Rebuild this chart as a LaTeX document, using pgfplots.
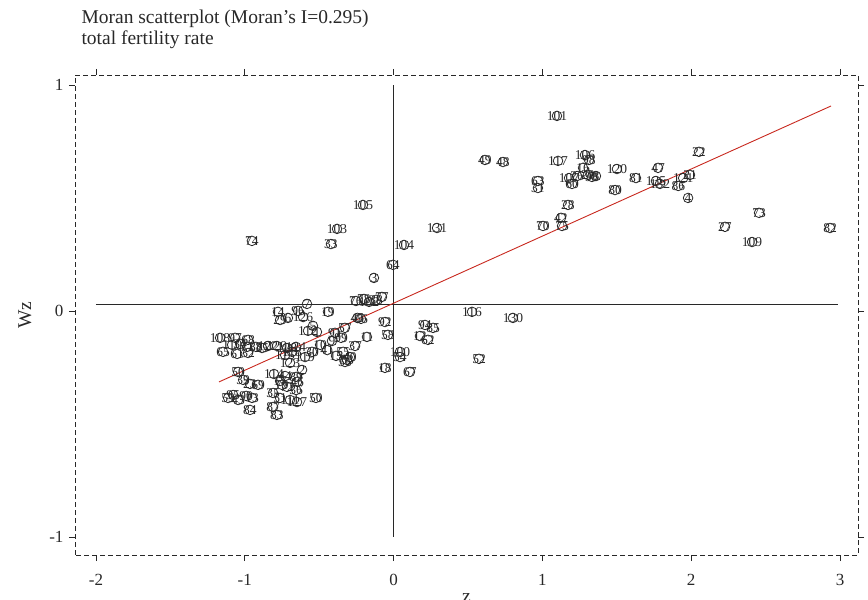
\documentclass[border=0pt]{standalone}
\usepackage{fontspec}
\setmainfont{Liberation Serif}
\usepackage{pgfplots}
\pgfplotsset{compat=1.18}
\usepackage{pgfplotstable}
\definecolor{fitred}{RGB}{200,40,30}
\definecolor{ink}{RGB}{40,40,40}

\pgfplotstableread{
x y lab
1.098 0.863 101
1.105 0.664 117
1.286 0.690 106
1.313 0.668 98
1.273 0.633 16
1.179 0.588 107
1.233 0.597 26
1.306 0.602 20
1.360 0.597 8
1.333 0.593 93
1.199 0.562 60
0.970 0.575 63
0.970 0.544 31
1.172 0.469 28
1.125 0.412 42
1.132 0.376 75
1.004 0.376 70
1.501 0.628 120
1.488 0.535 80
1.629 0.588 81
1.777 0.633 47
1.763 0.575 135
1.790 0.562 132
1.946 0.588 121
1.913 0.553 86
1.992 0.602 21
1.979 0.500 4
2.052 0.704 22
2.227 0.372 27
2.456 0.434 73
2.409 0.305 109
2.933 0.367 82
0.614 0.668 49
0.735 0.659 48
0.527 -0.004 116
0.802 -0.031 130
0.574 -0.212 52
0.292 0.367 131
0.070 0.292 104
-0.004 0.204 64
-0.206 0.469 105
-0.380 0.363 103
-0.421 0.296 33
-0.952 0.310 74
-0.132 0.146 3
-0.078 0.062 77
-0.118 0.049 38
-0.253 0.044 76
-0.165 0.040 102
-0.199 0.053 78
-0.243 -0.031 45
-0.219 -0.035 66
-0.327 -0.075 57
-0.058 -0.049 92
-0.038 -0.106 58
-0.179 -0.115 11
0.211 -0.062 94
0.265 -0.075 85
0.177 -0.111 12
0.231 -0.128 62
0.043 -0.181 100
0.043 -0.204 54
0.110 -0.270 67
-0.058 -0.252 18
-0.259 -0.155 37
-0.353 -0.119 99
-0.293 -0.204 40
-0.327 -0.226 56
-0.387 -0.199 15
-0.394 -0.097 91
-0.414 -0.133 9
-0.494 -0.150 10
-0.446 -0.173 41
-0.339 -0.181 55
-0.313 -0.217 53
-0.582 0.031 7
-0.777 -0.004 14
-0.763 -0.040 29
-0.710 -0.031 6
-0.642 0.000 96
-0.608 -0.027 126
-0.441 -0.004 19
-0.575 -0.088 112
-0.515 -0.093 1
-0.542 -0.066 5
-0.656 -0.159 124
-0.784 -0.155 129
-0.884 -0.164 25
-1.166 -0.119 108
-1.065 -0.119 97
-0.978 -0.128 68
-1.146 -0.181 65
-1.085 -0.150 110
-1.031 -0.146 34
-0.984 -0.159 71
-1.051 -0.190 61
-0.978 -0.186 32
-0.925 -0.159 88
-0.844 -0.155 122
-0.716 -0.164 128
-0.729 -0.195 115
-0.683 -0.181 118
-0.595 -0.204 119
-0.548 -0.181 30
-0.696 -0.230 123
-1.045 -0.270 50
-1.011 -0.305 39
-0.965 -0.323 23
-0.804 -0.279 114
-0.729 -0.288 44
-0.655 -0.292 89
-0.649 -0.314 46
-0.655 -0.350 36
-0.522 -0.385 50
-0.649 -0.403 127
-0.696 -0.394 111
-0.810 -0.425 87
-0.784 -0.460 83
-0.965 -0.438 84
-0.951 -0.385 13
-1.112 -0.385 59
-1.078 -0.372 95
-1.045 -0.394 43
-0.991 -0.376 90
-0.763 -0.385 51
-0.810 -0.363 35
-0.750 -0.327 79
-0.716 -0.336 72
-0.763 -0.310 17
-0.615 -0.261 2
-0.911 -0.327 69
}\pts

\begin{document}
\begin{tikzpicture}
\begin{axis}[
  scale only axis,
  width=783pt, height=480pt,
  xmin=-2.141, xmax=3.121,
  ymin=-1.080, ymax=1.044,
  xtick={-2,-1,0,1,2,3},
  xticklabels={-2,-1,0,1,2,3},
  ytick={-1,0,1},
  yticklabels={-1,0,1},
  tick align=outside,
  major tick length=6pt,
  axis line style={ink, line width=0.7pt, dash pattern=on 5pt off 3pt},
  tick style={ink, line width=0.7pt},
  ticklabel style={font=\fontsize{17}{17}\selectfont, text=ink},
  xticklabel style={yshift=-10pt},
  yticklabel style={xshift=-2pt},
  clip=false,
]
\addplot[ink, line width=0.8pt] coordinates {(0,-1) (0,1)};
\addplot[ink, line width=0.8pt] coordinates {(-2,0.031) (2.987,0.031)};
\addplot[fitred, line width=0.9pt] coordinates {(-1.173,-0.314) (2.94,0.907)};
\addplot[only marks, mark=o, mark size=4.8pt,
  mark options={ink, line width=0.8pt},
  point meta=explicit symbolic,
  nodes near coords,
  every node near coord/.append style={anchor=center, inner sep=0pt,
    font=\fontsize{13.5}{13.5}\selectfont, text=ink}]
  table[x=x, y=y, meta=lab] {\pts};
\end{axis}
\node[anchor=base west, font=\fontsize{19.5}{19.5}\selectfont, text=ink]
  at ([xshift=3pt,yshift=51pt]current axis.north west) {Moran scatterplot (Moran’s I=0.295)};
\node[anchor=base west, font=\fontsize{19.5}{19.5}\selectfont, text=ink]
  at ([xshift=3pt,yshift=30pt]current axis.north west) {total fertility rate};
\node[rotate=90, anchor=center, font=\fontsize{19.5}{19.5}\selectfont, text=ink]
  at ([xshift=-50pt]current axis.west) {Wz};
\node[anchor=base, font=\fontsize{19.5}{19.5}\selectfont, text=ink]
  at ([yshift=-47pt]current axis.south) {z};
\pgfresetboundingbox
\useasboundingbox ([xshift=-75pt,yshift=-44pt]current axis.south west)
  rectangle ([xshift=10pt,yshift=75pt]current axis.north east);
\end{tikzpicture}
\end{document}
